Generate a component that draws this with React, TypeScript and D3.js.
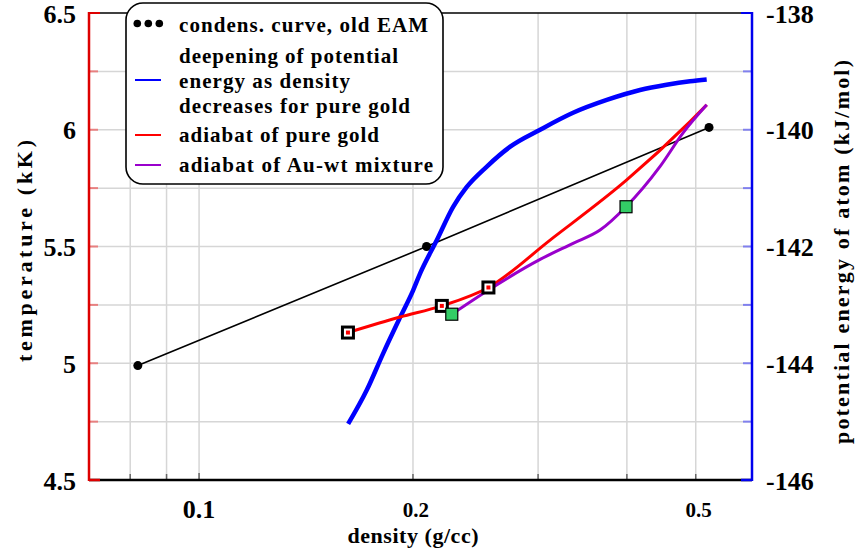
import React from 'react';
import * as d3 from 'd3';

const W = 856;
const H = 556;
const PL = 89, PR = 752, PT = 13, PB = 480;

// condensation curve, old EAM
const condensDensity = [0.082, 0.209, 0.522];
const condensTemp = [4.99, 5.5, 6.01];

// deepening of potential energy (right axis)
const energyDensity = [0.1621, 0.1722, 0.1816, 0.1919, 0.2001, 0.2047, 0.2161, 0.2278, 0.2381, 0.2541, 0.2741, 0.302, 0.336, 0.3748, 0.4174, 0.455, 0.4909, 0.5181];
const energyValue = [-145.04, -144.46, -143.83, -143.21, -142.75, -142.46, -141.89, -141.32, -140.98, -140.63, -140.29, -140.0, -139.71, -139.49, -139.32, -139.23, -139.17, -139.14];

// adiabat of pure gold
const goldDensity = [0.162, 0.1919, 0.2196, 0.2554, 0.3119, 0.3998, 0.4909, 0.5181];
const goldTemp = [5.1315, 5.198, 5.2456, 5.3245, 5.5275, 5.7849, 6.035, 6.1066];
const goldMarkDensity = [0.162, 0.2196, 0.2554];
const goldMarkTemp = [5.1315, 5.2456, 5.3245];

// adiabat of Au-wt mixture
const mixDensity = [0.2268, 0.2552, 0.302, 0.336, 0.3667, 0.3989, 0.4452, 0.4799, 0.5181];
const mixTemp = [5.21, 5.313, 5.4447, 5.5137, 5.5704, 5.6703, 5.8419, 5.9865, 6.1066];
const mixMarkDensity = [0.2268, 0.3989];
const mixMarkTemp = [5.21, 5.6703];

const xGridTicks = [0.08, 0.09, 0.1, 0.2, 0.3, 0.4, 0.5];
const xLabels = [
  { v: 0.1, t: '0.1', big: true },
  { v: 0.2, t: '0.2', big: false },
  { v: 0.5, t: '0.5', big: false },
];
const tempGrid = [4.75, 5, 5.25, 5.5, 5.75, 6, 6.25];
const tempLabels = [4.5, 5, 5.5, 6, 6.5];
const energyLabels = [-146, -144, -142, -140, -138];

const legendLines = [
  { t: 'condens. curve, old EAM', y: 32, len: 249 },
  { t: 'deepening of potential', y: 62.5, len: 219 },
  { t: 'energy as density', y: 87.5, len: 171 },
  { t: 'decreases for pure gold', y: 113, len: 231 },
  { t: 'adiabat of pure gold', y: 142, len: 200 },
  { t: 'adiabat of Au-wt mixture', y: 172, len: 254 },
];

const FONT = "'Liberation Serif', serif";

export default function App() {
  const x = d3.scaleLog().domain([0.07, 0.6]).range([PL, PR]);
  const yT = d3.scaleLinear().domain([4.5, 6.5]).range([PB, PT]);
  const yE = d3.scaleLinear().domain([-146, -138]).range([PB, PT]);

  const lineT = d3.line<[number, number]>().x(d => x(d[0])).y(d => yT(d[1])).curve(d3.curveMonotoneX);
  const lineE = d3.line<[number, number]>().x(d => x(d[0])).y(d => yE(d[1])).curve(d3.curveMonotoneX);
  const lineLin = d3.line<[number, number]>().x(d => x(d[0])).y(d => yT(d[1]));

  const energyPts = energyDensity.map((d, i) => [d, energyValue[i]] as [number, number]);
  const goldPts = goldDensity.map((d, i) => [d, goldTemp[i]] as [number, number]);
  const mixPts = mixDensity.map((d, i) => [d, mixTemp[i]] as [number, number]);
  const condPts = condensDensity.map((d, i) => [d, condensTemp[i]] as [number, number]);

  return (
    <svg width={W} height={H} style={{ position: 'absolute', left: 0, top: 0, background: '#fff' }}>
      <rect x={0} y={0} width={W} height={H} fill="#fff" />
      {/* grid */}
      {xGridTicks.map(v => (
        <line key={'gx' + v} x1={x(v)} x2={x(v)} y1={PT} y2={PB} stroke="#d6d6d6" strokeWidth={1.5} />
      ))}
      {tempGrid.map(v => (
        <line key={'gy' + v} x1={PL} x2={PR} y1={yT(v)} y2={yT(v)} stroke="#d6d6d6" strokeWidth={1.5} />
      ))}

      {/* data */}
      <path d={lineLin(condPts) || ''} fill="none" stroke="#000" strokeWidth={1.6} />
      {condPts.map((p, i) => (
        <circle key={'c' + i} cx={x(p[0])} cy={yT(p[1])} r={4.5} fill="#000" />
      ))}
      <path d={lineE(energyPts) || ''} fill="none" stroke="#0000ff" strokeWidth={4.5} strokeLinejoin="round" />
      <path d={lineT(goldPts) || ''} fill="none" stroke="#ff0000" strokeWidth={3} />
      <path d={lineT(mixPts) || ''} fill="none" stroke="#9900cc" strokeWidth={3} />
      {goldMarkDensity.map((d, i) => (
        <g key={'gm' + i}>
          <rect x={x(d) - 5.5} y={yT(goldMarkTemp[i]) - 5.5} width={11} height={11} fill="#fff" stroke="#000" strokeWidth={3} />
          <rect x={x(d) - 2} y={yT(goldMarkTemp[i]) - 2} width={4} height={4} fill="#ff0000" />
        </g>
      ))}
      {mixMarkDensity.map((d, i) => (
        <rect key={'mm' + i} x={x(d) - 6} y={yT(mixMarkTemp[i]) - 6} width={12} height={12} fill="#33cc66" stroke="#000" strokeWidth={1.2} />
      ))}

      {/* ticks */}
      {tempGrid.map(v => (
        <line key={'lt' + v} x1={PL} x2={PL + 9} y1={yT(v)} y2={yT(v)} stroke="#e88080" strokeWidth={2} />
      ))}
      {tempGrid.map(v => (
        <line key={'rt' + v} x1={PR - 9} x2={PR} y1={yT(v)} y2={yT(v)} stroke="#8080ee" strokeWidth={2} />
      ))}
      {xGridTicks.map(v => (
        <line key={'bt' + v} x1={x(v)} x2={x(v)} y1={PB} y2={PB - (v === 0.1 ? 7 : 6)} stroke="#666" strokeWidth={1.5} />
      ))}

      {/* axes */}
      <line x1={PL} x2={PR} y1={PT} y2={PT} stroke="#000" strokeWidth={1.5} />
      <line x1={PL} x2={PR} y1={PB} y2={PB} stroke="#000" strokeWidth={2.5} />
      <line x1={PL} x2={PL + 11} y1={PT} y2={PT} stroke="#dd0000" strokeWidth={2} />
      <line x1={PL} x2={PL + 11} y1={PB} y2={PB} stroke="#dd0000" strokeWidth={2.5} />
      <line x1={PR - 11} x2={PR} y1={PT} y2={PT} stroke="#0000ee" strokeWidth={2} />
      <line x1={PR - 11} x2={PR} y1={PB} y2={PB} stroke="#0000ee" strokeWidth={2.5} />
      <line x1={PL} x2={PL} y1={PT - 1} y2={PB + 1} stroke="#dd0000" strokeWidth={2.5} />
      <line x1={PR} x2={PR} y1={PT - 1} y2={PB + 1} stroke="#0000ee" strokeWidth={2.5} />

      {/* tick labels */}
      {tempLabels.map(v => (
        <text key={'tl' + v} x={76} y={yT(v) + 9.5} textAnchor="end" fontSize={26} fontWeight="bold" fontFamily={FONT}>{String(v)}</text>
      ))}
      {energyLabels.map(v => (
        <text key={'el' + v} x={766} y={yE(v) + 9.5} textAnchor="start" fontSize={26} fontWeight="bold" fontFamily={FONT}>{String(v)}</text>
      ))}
      {xLabels.map(l => (
        <text key={'xl' + l.t} x={x(l.v) + (l.big ? 0 : 3)} y={l.big ? 518 : 516.5} textAnchor="middle" fontSize={l.big ? 26 : 21} fontWeight="bold" fontFamily={FONT}>{l.t}</text>
      ))}

      {/* axis titles */}
      <text x={413} y={543} textAnchor="middle" fontSize={22} fontWeight="bold" fontFamily={FONT} textLength={131} lengthAdjust="spacing">density (g/cc)</text>
      <text transform={`translate(32,251) rotate(-90)`} textAnchor="middle" fontSize={22} fontWeight="bold" fontFamily={FONT} textLength={222} lengthAdjust="spacing">temperature (kK)</text>
      <text transform={`translate(849,252) rotate(-90)`} textAnchor="middle" fontSize={22} fontWeight="bold" fontFamily={FONT} textLength={384} lengthAdjust="spacing">potential energy of atom (kJ/mol)</text>

      {/* legend */}
      <rect x={126} y={3} width={317} height={181} rx={17} ry={17} fill="#fff" stroke="#000" strokeWidth={1.6} />
      {[137.3, 148.3, 159.3].map(cx => (
        <circle key={'ld' + cx} cx={cx} cy={23.5} r={3.8} fill="#000" />
      ))}
      <line x1={135} x2={161} y1={80} y2={80} stroke="#0000ff" strokeWidth={2} />
      <line x1={135} x2={161} y1={135} y2={135} stroke="#ff0000" strokeWidth={2} />
      <line x1={135} x2={161} y1={165} y2={165} stroke="#9900cc" strokeWidth={2} />
      {legendLines.map(l => (
        <text key={l.t} x={179} y={l.y} fontSize={21} fontWeight="bold" fontFamily={FONT} textLength={l.len} lengthAdjust="spacing">{l.t}</text>
      ))}
    </svg>
  );
}
